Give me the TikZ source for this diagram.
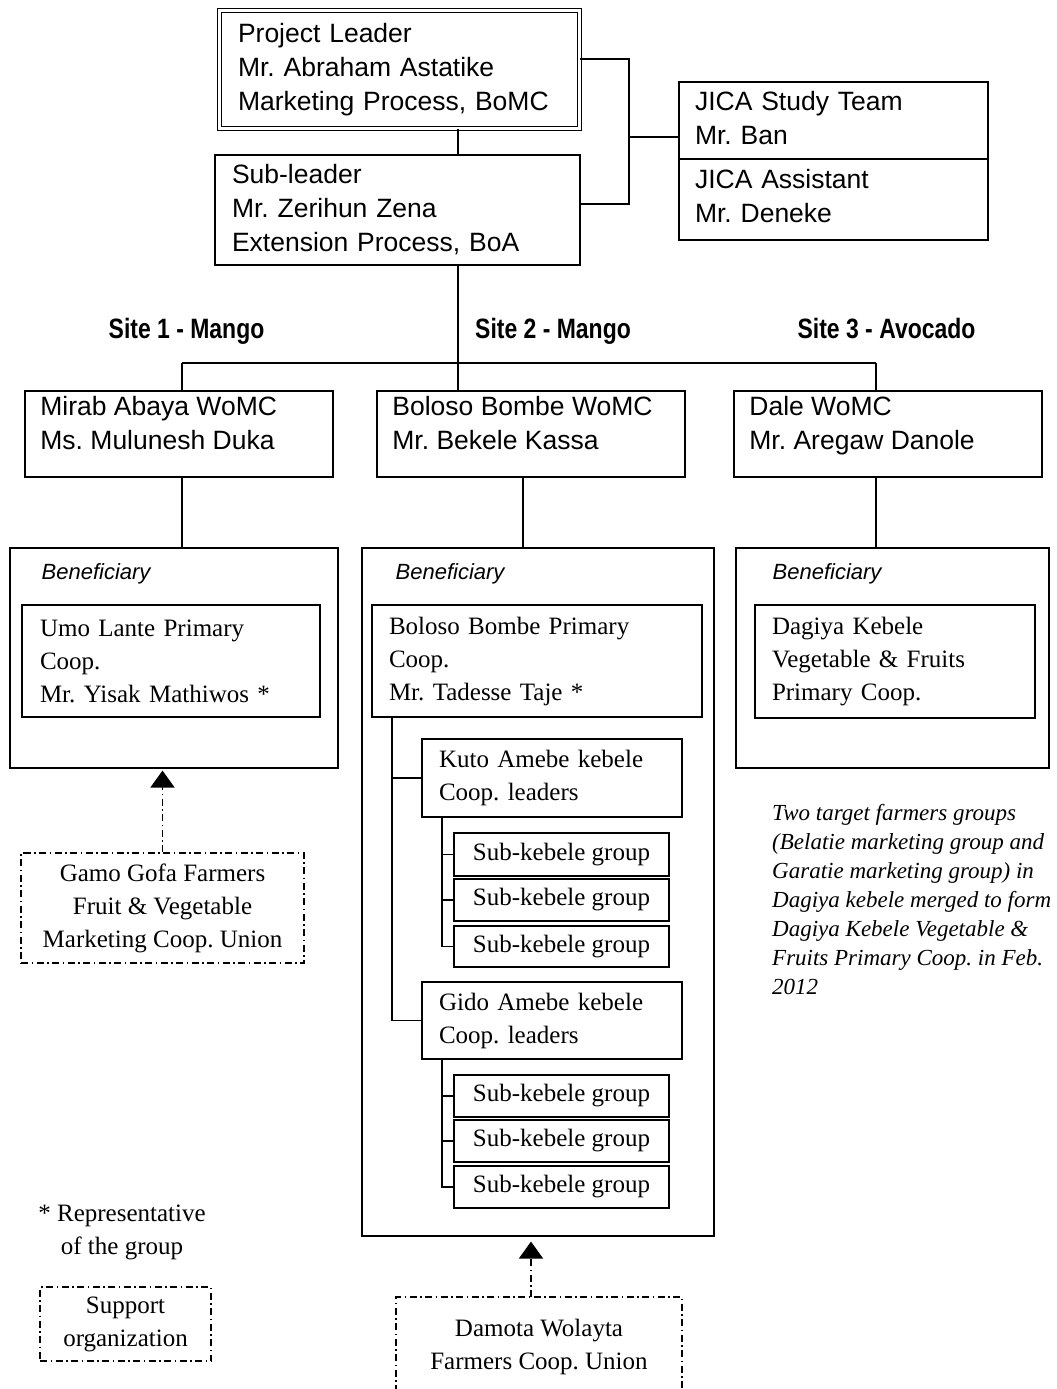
\documentclass[tikz,border=0pt]{standalone}
\usepackage{fontspec}
\setmainfont{Liberation Serif}
\newfontfamily\arialfam{Liberation Sans}
\newfontfamily\narrowfam[FakeStretch=0.82]{Liberation Sans}
\usetikzlibrary{arrows.meta}
\frenchspacing
\newcommand\SansTxt{\arialfam\fontsize{26.5}{34}\selectfont}
\newcommand\SerifTxt{\rmfamily\fontsize{25}{33}\selectfont}
\newcommand\SiteTxt{\narrowfam\bfseries\fontsize{28}{32}\selectfont}
\newcommand\BenTxt{\arialfam\itshape\fontsize{22}{26}\selectfont}
\newcommand\NoteTxt{\rmfamily\itshape\fontsize{23}{29}\selectfont}
\begin{document}
\begin{tikzpicture}[x=1pt,y=-1pt,
  bx/.style={draw, line width=1.6pt, inner ysep=0pt, align=left},
  sk/.style={draw, line width=1.6pt, inner sep=0pt, align=center, minimum width=215pt, font=\SerifTxt},
  bene/.style={draw, line width=1.1pt, inner sep=0pt},
  dd/.style={line width=1.5pt, dash pattern=on 7pt off 3.5pt on 1.5pt off 3.5pt},
  ddbox/.style={dd, draw, inner sep=0pt, align=center, font=\SerifTxt},
  ln/.style={line width=1.6pt},
  txt/.style={anchor=north west, inner sep=0pt, align=left},
  site/.style={font=\SiteTxt, inner sep=0pt, anchor=base},
  tip/.style={-{Triangle[width=24pt,length=17pt]}}]
\useasboundingbox (0,0) rectangle (1057,1389);

% top
\node[bx, double, double distance=2.5pt, line width=1.5pt, minimum width=360pt, minimum height=118pt,
  text width=323pt, inner xsep=18.5pt, font=\SansTxt] (pl) at (399.5,69.5)
  {Project Leader\\Mr. Abraham Astatike\\Marketing Process, BoMC};
\node[bx, minimum width=365pt, minimum height=110pt, text width=331pt, inner xsep=17pt, font=\SansTxt]
  (sl) at (397.5,210) {Sub-leader\\Mr. Zerihun Zena\\Extension Process, BoA};
\node[bx, minimum width=309pt, minimum height=77pt, text width=277pt, inner xsep=16pt, font=\SansTxt]
  (j1) at (833.5,120.5) {JICA Study Team\\Mr. Ban\rule[-6pt]{0pt}{1pt}};
\node[bx, minimum width=309pt, minimum height=81pt, text width=277pt, inner xsep=16pt, font=\SansTxt]
  (j2) at (833.5,199.5) {JICA Assistant\\Mr. Deneke\rule[-8pt]{0pt}{1pt}};

% site labels
\node[site] (l1) at (186.5,338) {Site 1 - Mango};
\node[site] (l2) at (553,338) {Site 2 - Mango};
\node[site] (l3) at (886.5,338) {Site 3 - Avocado};

% site boxes
\node[bx, minimum width=308pt, minimum height=86pt] (s1) at (179,434) {};
\node[bx, minimum width=308pt, minimum height=86pt] (s2) at (531,434) {};
\node[bx, minimum width=308pt, minimum height=86pt] (s3) at (888,434) {};
\node[txt, font=\SansTxt] (s1t) at ([shift={(16,6)}]s1.north west) {Mirab Abaya WoMC\\Ms. Mulunesh Duka};
\node[txt, font=\SansTxt] (s2t) at ([shift={(16,6)}]s2.north west) {Boloso Bombe WoMC\\Mr. Bekele Kassa};
\node[txt, font=\SansTxt] (s3t) at ([shift={(16,6)}]s3.north west) {Dale WoMC\\Mr. Aregaw Danole};

% beneficiary boxes
\node[bene, minimum width=328pt, minimum height=220pt] (b1) at (174,658) {};
\node[bene, minimum width=352pt, minimum height=688pt] (b2) at (538,892) {};
\node[bene, minimum width=313pt, minimum height=220pt] (b3) at (892.5,658) {};
\node[txt, font=\BenTxt] (b1t) at ([shift={(32,16)}]b1.north west) {Beneficiary};
\node[txt, font=\BenTxt] (b2t) at ([shift={(34,16)}]b2.north west) {Beneficiary};
\node[txt, font=\BenTxt] (b3t) at ([shift={(37,16)}]b3.north west) {Beneficiary};

\node[bx, minimum width=298pt, minimum height=112pt, text width=262pt, inner xsep=18pt, font=\SerifTxt]
  (u1) at (171,661) {Umo Lante Primary\\Coop.\\Mr. Yisak Mathiwos *};
\node[bx, minimum width=330pt, minimum height=112pt, text width=296pt, inner xsep=17pt, font=\SerifTxt]
  (bb) at (537,661) {Boloso Bombe Primary\\Coop.\\Mr. Tadesse Taje *};
\node[bx, minimum width=280pt, minimum height=113pt, text width=246pt, inner xsep=17pt, font=\SerifTxt]
  (dg) at (895,661.5) {Dagiya Kebele\\Vegetable \& Fruits\\Primary Coop.};

\node[bx, minimum width=260pt, minimum height=78pt, text width=226pt, inner xsep=17pt, font=\SerifTxt]
  (kuto) at (552,778) {Kuto Amebe kebele\\Coop. leaders};
\node[bx, minimum width=260pt, minimum height=77pt, text width=226pt, inner xsep=17pt, font=\SerifTxt]
  (gido) at (552,1020.5) {Gido Amebe kebele\\Coop. leaders};

\node[sk, minimum height=43pt] (k1) at (561.5,854.5) {Sub-kebele group};
\node[sk, minimum height=42pt] (k2) at (561.5,900) {Sub-kebele group};
\node[sk, minimum height=41pt] (k3) at (561.5,946.5) {Sub-kebele group};
\node[sk, minimum height=42pt] (g1) at (561.5,1096) {Sub-kebele group};
\node[sk, minimum height=42pt] (g2) at (561.5,1141) {Sub-kebele group};
\node[sk, minimum height=42pt] (g3) at (561.5,1187) {Sub-kebele group};

% note
\node[txt, font=\NoteTxt] (note) at (772,804)
  {Two target farmers groups\\(Belatie marketing group and\\Garatie marketing group) in\\Dagiya kebele merged to form\\Dagiya Kebele Vegetable \&\\Fruits Primary Coop. in Feb.\\2012};

% support organisations
\node[ddbox, minimum width=283pt, minimum height=110pt] (gg) at (162.5,908)
  {Gamo Gofa Farmers\\Fruit \& Vegetable\\Marketing Coop. Union};
\node[ddbox, minimum width=171pt, minimum height=74pt] (sup) at (125.5,1324) {Support\\organization};
\node[inner sep=0pt, align=center, font=\SerifTxt] (rep) at (122,1232) {* Representative\\of the group};
\node[inner sep=0pt, align=center, font=\SerifTxt] (dam) at (539,1347) {Damota Wolayta\\Farmers Coop. Union};
\draw[dd] (396,1392) -- (396,1297) -- (682,1297) -- (682,1392);
\coordinate (dtop) at (531,1297);

% connectors
\coordinate (cx) at (458,0);
\coordinate (jx) at (629,137);
\coordinate (t1) at (182,363);
\coordinate (t3) at (876,363);
\coordinate (c2) at (523,0);
\coordinate (vx) at (392,0);
\coordinate (kx) at (442,0);
\draw[ln] (pl.south -| cx) -- (sl.north -| cx);
\draw[ln] ([yshift=10.5pt]pl.east) -| (jx) |- ([yshift=6pt]sl.east);
\draw[ln] (jx) -- (jx -| j1.west);
\draw[ln] (sl.south -| cx) -- (s2.north -| cx);
\draw[ln] (t1) -- (t3);
\draw[ln] (t1) -- (t1 |- s1.north);
\draw[ln] (t3) -- (t3 |- s3.north);
\draw[ln] (s1.south -| t1) -- (b1.north -| t1);
\draw[ln] (s2.south -| c2) -- (b2.north -| c2);
\draw[ln] (s3.south -| t3) -- (b3.north -| t3);
\draw[ln] (bb.south -| vx) |- (gido.west);
\draw[ln] (vx |- kuto.west) -- (kuto.west);
\draw[ln] (kuto.south -| kx) |- (k3.west);
\draw[ln] (kx |- k1.west) -- (k1.west);
\draw[ln] (kx |- k2.west) -- (k2.west);
\draw[ln] (gido.south -| kx) |- (g3.west);
\draw[ln] (kx |- g1.west) -- (g1.west);
\draw[ln] (kx |- g2.west) -- (g2.west);
\draw[dd, tip] (gg.north) -- ([yshift=-2pt]gg.north |- b1.south);
\draw[dd, tip] (dtop) -- ([yshift=-5pt]dtop |- b2.south);
\end{tikzpicture}
\end{document}
